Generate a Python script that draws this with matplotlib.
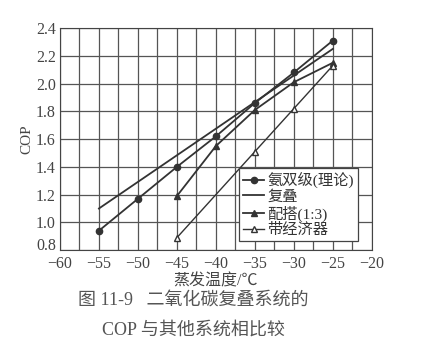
import matplotlib
matplotlib.use('Agg')
import matplotlib.pyplot as plt
from matplotlib.ticker import MultipleLocator, FuncFormatter

plt.rcParams['font.family'] = ['Liberation Serif', 'Noto Sans CJK SC']
plt.rcParams['axes.unicode_minus'] = True

# 数据
t_nh3 = [-55, -50, -45, -40, -35, -30, -25]
cop_nh3 = [0.94, 1.17, 1.40, 1.62, 1.86, 2.08, 2.31]

t_cas = [-55, -25]
cop_cas = [1.10, 2.25]

t_mix = [-45, -40, -35, -30, -25]
cop_mix = [1.19, 1.55, 1.81, 2.01, 2.15]

t_eco = [-45, -35, -30, -25]
cop_eco = [0.89, 1.51, 1.82, 2.13]

labels = ['氨双级(理论)', '复叠', '配搭(1:3)', '带经济器']

fig = plt.figure(figsize=(4.25, 3.46), dpi=100)
ax = fig.add_axes([0.141, 0.277, 0.734, 0.642])

c = '#333333'
ax.plot(t_nh3, cop_nh3, '-o', color=c, lw=1.3, ms=4.5, label=labels[0])
ax.plot(t_cas, cop_cas, '-', color=c, lw=1.3, label=labels[1])
ax.plot(t_mix, cop_mix, '-^', color=c, lw=1.3, ms=4.5, label=labels[2])
ax.plot(t_eco, cop_eco, '-^', color=c, lw=1.0, ms=4.5, mfc='white', label=labels[3])

ax.set_xlim(-60, -20)
ax.set_ylim(0.8, 2.4)
ax.xaxis.set_major_locator(MultipleLocator(5))
ax.xaxis.set_minor_locator(MultipleLocator(2.5))
ax.yaxis.set_major_locator(MultipleLocator(0.2))
# 0.8 单独画，避免和 -60 挤在一起
ax.yaxis.set_major_formatter(FuncFormatter(lambda v, p: '' if abs(v - 0.8) < 1e-6 else '%.1f' % v))
ax.annotate('0.8', xy=(0, 0.8), xycoords=('axes fraction', 'data'),
            xytext=(-3, 3), textcoords='offset points', ha='right', va='center',
            fontsize=11.5, color='#444444')
ax.grid(True, which='both', color='#555555', lw=0.9)
ax.tick_params(which='both', length=0, labelsize=11.5, colors='#444444')
ax.tick_params(axis='x', pad=4)
ax.tick_params(axis='y', pad=3)
for s in ax.spines.values():
    s.set_color('#444444')

ax.set_ylabel('COP', fontsize=11, color='#444444', labelpad=2)
ax.set_xlabel('蒸发温度/℃', fontsize=11.5, color='#444444', labelpad=1)

leg = ax.legend(loc='lower right', bbox_to_anchor=(0.955, 0.04), fontsize=11,
                frameon=True, fancybox=False, framealpha=1, edgecolor='#444444',
                handlelength=1.4, handletextpad=0.2, borderpad=0.25, labelspacing=0.12,
                borderaxespad=0)
leg.get_frame().set_linewidth(0.9)
for txt in leg.get_texts():
    txt.set_color('#333333')

fig.text(0.455, 0.13, '图 11-9   二氧化碳复叠系统的', ha='center', va='center',
         fontsize=13, color='#555555')
fig.text(0.455, 0.045, 'COP 与其他系统相比较', ha='center', va='center',
         fontsize=13, color='#555555')

fig.savefig('out.png', dpi=100)
